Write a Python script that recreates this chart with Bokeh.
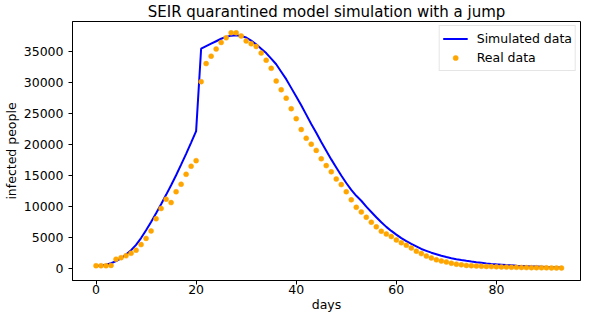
from bokeh.plotting import figure
from bokeh.models import Range1d, SingleIntervalTicker, Legend, LegendItem
from bokeh.embed import file_html
from bokeh.resources import INLINE

days = list(range(94))

simulated = [
    500, 540, 650, 900, 1250, 1700, 2300, 3000, 3850, 4950,
    6200, 7550, 8950, 10400, 11900, 13450, 15050, 16750, 18500, 20300,
    22150, 35400, 35800, 36200, 36600, 37000, 37300, 37500, 37550, 37450,
    37200, 36700, 36100, 35400, 34700, 33800, 32900, 31700, 30500, 29100,
    27700, 26300, 24800, 23300, 21900, 20400, 19000, 17600, 16300, 15000,
    13800, 12700, 11750, 10950, 10000, 9150, 8300, 7500, 6750, 6100,
    5500, 4950, 4450, 4000, 3600, 3200, 2900, 2600, 2350, 2100,
    1900, 1720, 1560, 1420, 1290, 1170, 1060, 970, 880, 800,
    730, 670, 610, 560, 510, 470, 430, 390, 360, 330,
    300, 270, 250, 230,
]

real = [
    500, 500, 500, 550, 1550, 1800, 2100, 2500, 3000, 3900,
    4900, 6100, 8050, 9700, 11200, 10650, 12400, 13600, 15200, 16500,
    17400, 30100, 33000, 34200, 35350, 36400, 37150, 37950, 37950, 37450,
    36650, 36200, 35750, 34700, 33550, 32250, 30200, 28800, 27450, 25750,
    24150, 22400, 21000, 20050, 19050, 17700, 16600, 15600, 14450, 13550,
    12400, 11100, 9900, 9150, 8300, 7500, 6750, 6050, 5600, 5200,
    4650, 4200, 3800, 3350, 2850, 2450, 2050, 1750, 1450, 1250,
    1100, 900, 750, 650, 550, 500, 460, 420, 390, 360,
    330, 300, 280, 260, 240, 220, 200, 190, 180, 170,
    160, 150, 140, 130,
]

title_text = "SEIR quarantined model simulation with a jump"
x_label = "days"
y_label = "infected people"
series_names = ["Simulated data", "Real data"]

FONT = "DejaVu Sans"

p = figure(width=581, height=314, output_backend="svg", toolbar_location=None,
           x_range=Range1d(-4.7, 96.8), y_range=Range1d(-1873, 39773),
           title=title_text, min_border_left=71, min_border_right=1,
           min_border_top=0, min_border_bottom=0)

p.title.text_font = FONT
p.title.text_font_size = "15px"
p.title.text_font_style = "normal"
p.title.align = "center"
p.title.standoff = 1
p.title.text_color = "black"

p.outline_line_color = "black"
p.outline_line_width = 1
p.outline_line_alpha = 1
p.grid.visible = False

p.xaxis.ticker = SingleIntervalTicker(interval=20)
p.yaxis.ticker = SingleIntervalTicker(interval=5000)

for ax in (p.xaxis, p.yaxis):
    ax.axis_line_color = "black"
    ax.major_tick_line_color = "black"
    ax.major_tick_out = 4
    ax.major_tick_in = 0
    ax.minor_tick_line_color = None
    ax.major_label_text_font = FONT
    ax.major_label_text_font_size = "12.5px"
    ax.major_label_text_color = "black"
    ax.axis_label_text_font = FONT
    ax.axis_label_text_font_size = "12.5px"
    ax.axis_label_text_font_style = "normal"
    ax.axis_label_text_color = "black"

p.xaxis.major_label_standoff = 0
p.xaxis.axis_label_standoff = 0
p.yaxis.major_label_standoff = 5
p.yaxis.axis_label_standoff = 2

p.xaxis.axis_label = x_label
p.yaxis.axis_label = y_label

line_r = p.line(days, simulated, line_color="blue", line_width=2)
dots_r = p.scatter(days, real, size=5, fill_color="orange", line_color="orange",
                   line_width=0.5)

legend = Legend(items=[LegendItem(label=series_names[0], renderers=[line_r]),
                       LegendItem(label=series_names[1], renderers=[dots_r])],
                location="top_right")
legend.label_text_font = FONT
legend.label_text_font_size = "12.5px"
legend.label_text_color = "black"
legend.border_line_color = "#cccccc"
legend.border_line_width = 1
legend.background_fill_alpha = 0.8
legend.glyph_width = 25
legend.glyph_height = 13
legend.label_height = 19
legend.label_standoff = 9
legend.spacing = 0
legend.padding = 3
legend.margin = 4
p.add_layout(legend)

open("out.html", "w").write(file_html(p, INLINE))
